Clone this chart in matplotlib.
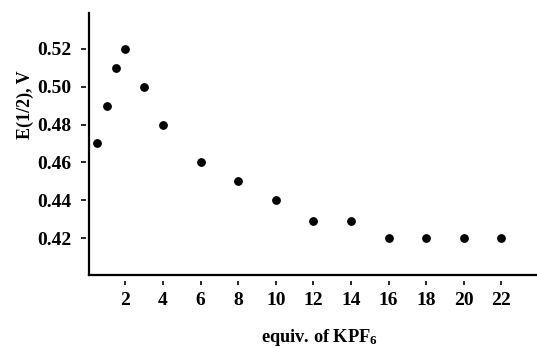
import matplotlib
matplotlib.use("Agg")
import matplotlib.pyplot as plt

# Data
equiv = [0.5, 1, 1.5, 2, 3, 4, 6, 8, 10, 12, 14, 16, 18, 20, 22]
e_half = [0.47, 0.49, 0.51, 0.52, 0.50, 0.48, 0.46, 0.45, 0.44, 0.429, 0.429, 0.42, 0.42, 0.42, 0.42]
xticks = [2, 4, 6, 8, 10, 12, 14, 16, 18, 20, 22]
yticks = [0.42, 0.44, 0.46, 0.48, 0.50, 0.52]

plt.rcParams['font.family'] = ['Liberation Serif', 'DejaVu Serif']
plt.rcParams['font.weight'] = 'bold'
plt.rcParams['mathtext.fontset'] = 'custom'
plt.rcParams['mathtext.rm'] = 'Liberation Serif:bold'
plt.rcParams['mathtext.bf'] = 'Liberation Serif:bold'
plt.rcParams['mathtext.it'] = 'Liberation Serif:bold'

fig = plt.figure(figsize=(5.37, 3.48), dpi=100)
ax = fig.add_axes([0.165, 0.21, 0.835, 0.753])

ax.plot(equiv, e_half, 'o', color='black', ms=5.3, clip_on=False)

ax.set_xlim(0.04, 23.9)
ax.set_ylim(0.4005, 0.539)
ax.set_xticks(xticks)
ax.set_yticks(yticks)
ax.set_yticklabels([f"{v:.2f}" for v in yticks])

for s in ['top', 'right']:
    ax.spines[s].set_visible(False)
ax.spines['left'].set_position(('outward', 2))
ax.spines['bottom'].set_position(('outward', 4.5))
ax.spines['left'].set_visible(False)
ax.spines['bottom'].set_visible(False)
# visible axis lines at the plot edges (ticks sit slightly detached)
ax.plot([0, 0], [0, 1], transform=ax.transAxes, color='black', lw=1.6, clip_on=False)
ax.plot([0, 1], [0, 0], transform=ax.transAxes, color='black', lw=1.6, clip_on=False)

ax.tick_params(axis='y', direction='out', length=3.8, width=1.2, pad=6.5, labelsize=14)
ax.tick_params(axis='x', direction='out', length=3.0, width=1.2, pad=4.5, labelsize=14)
for lab in ax.get_xticklabels() + ax.get_yticklabels():
    lab.set_fontweight('bold')

ax.set_xlabel(r'equiv. of KPF$_6$', fontsize=13.2, fontweight='bold', va='top')
ax.xaxis.set_label_coords(0.516, -0.198)
ax.set_ylabel('E(1/2), V', fontsize=13, fontweight='bold', va='center')
ax.yaxis.set_label_coords(-0.14, 0.649)

fig.savefig('out.png', dpi=100)
